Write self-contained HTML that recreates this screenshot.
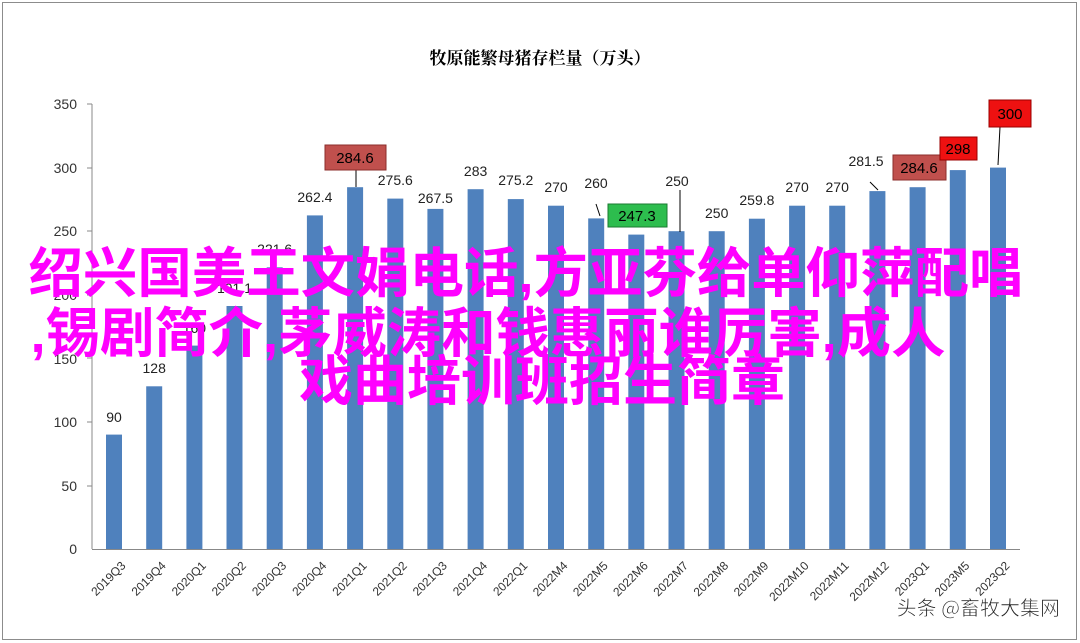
<!DOCTYPE html>
<html><head><meta charset="utf-8"><style>
body{margin:0;background:#fff}
svg{display:block}
text{font-family:"Liberation Sans","Noto Sans CJK SC",sans-serif}
</style></head><body>
<svg width="1080" height="643" xmlns="http://www.w3.org/2000/svg">
<rect x="2.5" y="2.5" width="1074" height="637" fill="#fff" stroke="#8c8c8c"/>
<text x="540" y="64" text-anchor="middle" font-size="17" font-weight="bold" style="font-family:'Noto Serif CJK SC',serif">牧原能繁母猪存栏量（万头）</text>
<g font-size="14" fill="#333" text-anchor="end">
<text x="77" y="554">0</text><text x="77" y="491">50</text><text x="77" y="427">100</text><text x="77" y="364">150</text><text x="77" y="300">200</text><text x="77" y="236">250</text><text x="77" y="173">300</text><text x="77" y="109">350</text>
</g>
<line x1="92" y1="104" x2="92" y2="549" stroke="#888"/>
<g stroke="#888"><line x1="87" y1="104" x2="92" y2="104"/><line x1="87" y1="168" x2="92" y2="168"/><line x1="87" y1="231" x2="92" y2="231"/><line x1="87" y1="295" x2="92" y2="295"/><line x1="87" y1="358" x2="92" y2="358"/><line x1="87" y1="422" x2="92" y2="422"/><line x1="87" y1="486" x2="92" y2="486"/></g>
<g fill="#4f81bd">
<rect x="106" y="434.6" width="16" height="114.4"/>
<rect x="146.2" y="386.3" width="16" height="162.7"/>
<rect x="186.4" y="345.6" width="16" height="203.4"/>
<rect x="226.5" y="306" width="16" height="243"/>
<rect x="266.7" y="267.3" width="16" height="281.7"/>
<rect x="306.9" y="215.4" width="16" height="333.6"/>
<rect x="347.1" y="187.2" width="16" height="361.8"/>
<rect x="387.3" y="198.6" width="16" height="350.4"/>
<rect x="427.4" y="208.9" width="16" height="340.1"/>
<rect x="467.6" y="189.2" width="16" height="359.8"/>
<rect x="507.8" y="199.1" width="16" height="349.9"/>
<rect x="548" y="205.7" width="16" height="343.3"/>
<rect x="588.2" y="218.4" width="16" height="330.6"/>
<rect x="628.3" y="234.6" width="16" height="314.4"/>
<rect x="668.5" y="231.2" width="16" height="317.8"/>
<rect x="708.7" y="231.2" width="16" height="317.8"/>
<rect x="748.9" y="218.7" width="16" height="330.3"/>
<rect x="789.1" y="205.7" width="16" height="343.3"/>
<rect x="829.2" y="205.7" width="16" height="343.3"/>
<rect x="869.4" y="191.1" width="16" height="357.9"/>
<rect x="909.6" y="187.2" width="16" height="361.8"/>
<rect x="949.8" y="170.1" width="16" height="378.9"/>
<rect x="990" y="167.6" width="16" height="381.4"/>
</g>
<line x1="92" y1="549.5" x2="1020" y2="549.5" stroke="#888"/>
<g font-size="14" fill="#222" text-anchor="middle">
<text x="114" y="422">90</text>
<text x="154.2" y="373">128</text>
<text x="194.4" y="333">160</text>
<text x="234.5" y="293">191.1</text>
<text x="274.7" y="254">221.6</text>
<text x="314.9" y="202">262.4</text>
<text x="395.3" y="185">275.6</text>
<text x="435.4" y="203">267.5</text>
<text x="475.6" y="176">283</text>
<text x="515.8" y="185">275.2</text>
<text x="556" y="192">270</text>
<text x="596" y="188">260</text>
<text x="677" y="186">250</text>
<text x="716.7" y="218">250</text>
<text x="756.9" y="205">259.8</text>
<text x="797.1" y="192">270</text>
<text x="837.2" y="192">270</text>
<text x="866" y="166">281.5</text>
</g>
<g font-size="12" fill="#333" text-anchor="end">
<text transform="translate(120,560) rotate(-45)" y="9">2019Q3</text>
<text transform="translate(160.2,560) rotate(-45)" y="9">2019Q4</text>
<text transform="translate(200.4,560) rotate(-45)" y="9">2020Q1</text>
<text transform="translate(240.5,560) rotate(-45)" y="9">2020Q2</text>
<text transform="translate(280.7,560) rotate(-45)" y="9">2020Q3</text>
<text transform="translate(320.9,560) rotate(-45)" y="9">2020Q4</text>
<text transform="translate(361.1,560) rotate(-45)" y="9">2021Q1</text>
<text transform="translate(401.3,560) rotate(-45)" y="9">2021Q2</text>
<text transform="translate(441.4,560) rotate(-45)" y="9">2021Q3</text>
<text transform="translate(481.6,560) rotate(-45)" y="9">2021Q4</text>
<text transform="translate(521.8,560) rotate(-45)" y="9">2022Q1</text>
<text transform="translate(562,560) rotate(-45)" y="9">2022M4</text>
<text transform="translate(602.2,560) rotate(-45)" y="9">2022M5</text>
<text transform="translate(642.3,560) rotate(-45)" y="9">2022M6</text>
<text transform="translate(682.5,560) rotate(-45)" y="9">2022M7</text>
<text transform="translate(722.7,560) rotate(-45)" y="9">2022M8</text>
<text transform="translate(762.9,560) rotate(-45)" y="9">2022M9</text>
<text transform="translate(803.1,560) rotate(-45)" y="9">2022M10</text>
<text transform="translate(843.2,560) rotate(-45)" y="9">2022M11</text>
<text transform="translate(883.4,560) rotate(-45)" y="9">2022M12</text>
<text transform="translate(923.6,560) rotate(-45)" y="9">2023Q1</text>
<text transform="translate(963.8,560) rotate(-45)" y="9">2023M5</text>
<text transform="translate(1004,560) rotate(-45)" y="9">2023Q2</text>
</g>
<g stroke="#000" stroke-width="1">
<line x1="356" y1="170" x2="356" y2="187"/>
<line x1="596" y1="204" x2="600" y2="216"/>
<line x1="680" y1="190" x2="680" y2="232"/>
<line x1="870" y1="182" x2="878" y2="190"/>
<line x1="940" y1="160" x2="934" y2="170"/>
<line x1="1000" y1="127" x2="998" y2="165"/>
</g>
<g font-size="15" text-anchor="middle">
<rect x="325" y="145" width="61" height="25" fill="#c0504d" stroke="#8b2e2b"/><text x="355" y="163">284.6</text>
<rect x="608" y="204" width="59" height="23" fill="#2dbd4e" stroke="#1a7a30"/><text x="637" y="221">247.3</text>
<rect x="893" y="155" width="53" height="25" fill="#c0504d" stroke="#8b2e2b"/><text x="919" y="173">284.6</text>
<rect x="940" y="137" width="37" height="23" fill="#ee1111" stroke="#900"/><text x="958" y="154">298</text>
<rect x="989" y="100" width="42" height="27" fill="#ee1111" stroke="#900"/><text x="1010" y="119">300</text>
</g>
<g fill="#ff00ff" font-size="54" font-weight="bold" text-anchor="middle" style="font-family:'Noto Sans CJK SC',sans-serif">
<text x="526" y="292" textLength="995" lengthAdjust="spacingAndGlyphs">绍兴国美王文娟电话,方亚芬给单仰萍配唱</text>
<text x="488" y="352" textLength="915" lengthAdjust="spacingAndGlyphs">,锡剧简介,茅威涛和钱惠丽谁厉害,成人</text>
<text x="542" y="400">戏曲培训班招生简章</text>
</g>
<text x="1060" y="615" text-anchor="end" font-size="20" fill="#222" stroke="#fff" stroke-width="0.6" style="font-family:'Noto Sans CJK SC',sans-serif">头条 @畜牧大集网</text>
</svg>
</body></html>
